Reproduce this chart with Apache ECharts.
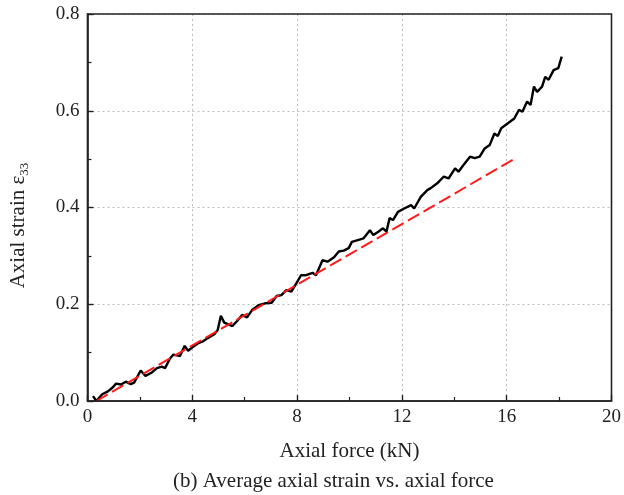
<!DOCTYPE html>
<html>
<head>
<meta charset="utf-8">
<script src="https://cdn.jsdelivr.net/npm/echarts@6/dist/echarts.min.js"></script>
<style>
  html, body { margin: 0; padding: 0; background: #fff; }
  #chart { width: 624px; height: 495px; }
</style>
</head>
<body>
<div id="chart"></div>
<script>
// Measured average axial strain against applied axial force
const forceKN = [0.21,0.34,0.56,0.78,0.96,1.09,1.28,1.46,1.65,1.78,2.03,2.21,2.46,2.65,2.84,2.96,3.15,3.28,3.53,3.71,3.84,4.03,4.21,4.40,4.59,4.84,4.97,5.09,5.22,5.53,5.72,5.90,6.09,6.28,6.53,6.78,7.03,7.22,7.40,7.59,7.78,7.97,8.15,8.34,8.59,8.72,8.97,9.16,9.41,9.59,9.78,9.97,10.09,10.35,10.53,10.78,10.91,11.10,11.28,11.41,11.53,11.66,11.85,12.09,12.35,12.47,12.72,12.97,13.10,13.35,13.60,13.78,14.03,14.16,14.35,14.60,14.78,14.97,15.16,15.35,15.53,15.66,15.79,15.97,16.29,16.47,16.60,16.78,16.91,17.04,17.16,17.35,17.47,17.60,17.79,17.97,18.04,18.10];
const strain = [0.010,0.000,0.014,0.020,0.028,0.036,0.034,0.040,0.035,0.038,0.063,0.052,0.059,0.068,0.071,0.068,0.088,0.096,0.093,0.114,0.104,0.112,0.119,0.123,0.130,0.138,0.147,0.176,0.162,0.155,0.166,0.178,0.173,0.188,0.198,0.202,0.203,0.217,0.219,0.229,0.226,0.243,0.260,0.260,0.265,0.260,0.291,0.288,0.297,0.309,0.311,0.316,0.329,0.333,0.336,0.353,0.343,0.350,0.357,0.350,0.378,0.374,0.391,0.398,0.405,0.398,0.422,0.436,0.440,0.450,0.464,0.460,0.481,0.474,0.488,0.505,0.502,0.505,0.522,0.529,0.553,0.548,0.564,0.571,0.584,0.602,0.598,0.619,0.612,0.650,0.639,0.650,0.670,0.664,0.684,0.688,0.701,0.712];

// Linear reference line (end points)
const fitForce = [0.34, 16.28];
const fitStrain = [0.0, 0.5];

// Axis ticks
const xTicks = [0, 4, 8, 12, 16, 20];
const yTicks = [0.0, 0.2, 0.4, 0.6, 0.8];

const FONT = '"Liberation Serif", "Times New Roman", serif';
const pair = (xs, ys) => xs.map((x, i) => [x, ys[i]]);

const chart = echarts.init(document.getElementById('chart'), null, { renderer: 'canvas' });

const axisCommon = {
  axisLine: { show: true, onZero: false, lineStyle: { color: '#222', width: 1.6 } },
  axisTick: { show: true, inside: true, length: 6, lineStyle: { color: '#222', width: 1.4 } },
  minorTick: { show: true, splitNumber: 2, length: 4, lineStyle: { color: '#222', width: 1.2 } },
  splitLine: { show: true, lineStyle: { color: '#bdbdbd', width: 1, type: [2, 3] } },
  axisLabel: { color: '#222', fontFamily: FONT, fontSize: 19 }
};

chart.setOption({
  animation: false,
  backgroundColor: '#fff',
  grid: {
    left: 86, top: 14, right: 5, bottom: 94, z: 10,
    show: true, borderColor: '#222', borderWidth: 1.6, backgroundColor: 'transparent'
  },
  title: {
    text: '(b) Average axial strain vs. axial force',
    left: 168, top: 466,
    textStyle: { fontFamily: FONT, fontSize: 21, fontWeight: 'normal', color: '#222' }
  },
  xAxis: Object.assign({}, axisCommon, {
    type: 'value',
    min: xTicks[0], max: xTicks[xTicks.length - 1], interval: 4,
    name: 'Axial force (kN)',
    nameLocation: 'middle', nameGap: 40,
    nameTextStyle: { fontFamily: FONT, fontSize: 21, color: '#222' },
    axisLabel: Object.assign({}, axisCommon.axisLabel, {
      margin: 7,
      formatter: v => String(v)
    })
  }),
  yAxis: Object.assign({}, axisCommon, {
    type: 'value',
    min: yTicks[0], max: yTicks[yTicks.length - 1], interval: 0.2,
    name: '{m|Axial strain ε}{s|33}',
    nameLocation: 'middle', nameGap: 56,
    nameTextStyle: {
      fontFamily: FONT, color: '#222', padding: [0, 36, 0, 0],
      rich: {
        m: { fontFamily: FONT, fontSize: 21, color: '#222', lineHeight: 26 },
        s: { fontFamily: FONT, fontSize: 13, color: '#222', lineHeight: 26, verticalAlign: 'bottom' }
      }
    },
    axisLabel: Object.assign({}, axisCommon.axisLabel, {
      margin: 8,
      formatter: v => v.toFixed(1)
    })
  }),
  series: [
    {
      type: 'line',
      data: pair(fitForce, fitStrain),
      showSymbol: false,
      lineStyle: { color: '#ff1a1a', width: 2, type: [13, 5] },
      z: 3
    },
    {
      type: 'line',
      data: pair(forceKN, strain),
      showSymbol: false,
      lineStyle: { color: '#000', width: 2.4 },
      z: 2
    }
  ]
});
</script>
</body>
</html>
